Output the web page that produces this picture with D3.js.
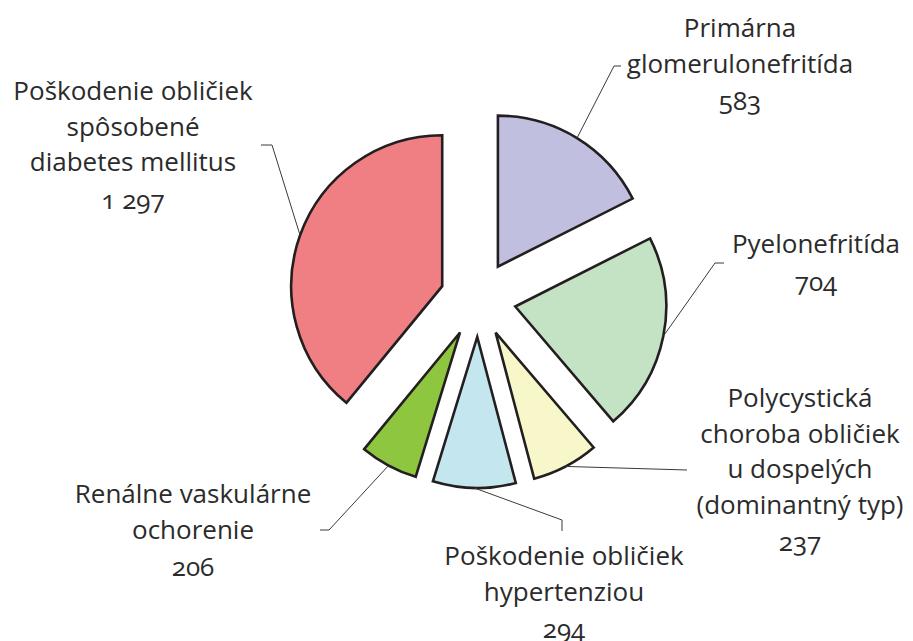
<!DOCTYPE html>
<html lang="sk">
  <head>
    <meta charset="utf-8">
    <title>D3: Exploded pie</title>
    <script type="text/javascript" src="https://cdn.jsdelivr.net/npm/d3@7"></script>
    <style type="text/css">
      body { margin: 0; background: #fff; }
      .label { font-family: "Open Sans", sans-serif; font-size: 26px; fill: #2b2b2b; font-variant-numeric: oldstyle-nums; }
      .leader { fill: none; stroke: #3a3a3a; stroke-width: 1; }
    </style>
  </head>
  <body>
    <script type="text/javascript">

      //Data
      var categories = [
        ["Primárna", "glomerulonefritída"],
        ["Pyelonefritída"],
        ["Polycystická", "choroba obličiek", "u dospelých", "(dominantný typ)"],
        ["Poškodenie obličiek", "hypertenziou"],
        ["Renálne vaskulárne", "ochorenie"],
        ["Poškodenie obličiek", "spôsobené", "diabetes mellitus"]
      ];
      var values = [583, 704, 237, 294, 206, 1297];
      var colors = ["#c1bfdf", "#c4e2c4", "#f8f7c9", "#c4e6ef", "#8fc640", "#f07f83"];

      //Label layout: text centre, first baseline, leader elbow and end
      var labelPos = [
        {x: 740, y: 37,  elbow: [614, 66],  end: [621, 66]},
        {x: 816, y: 253, elbow: [715, 263], end: [724, 263]},
        {x: 800, y: 407, elbow: [687, 470], end: [687, 470]},
        {x: 564, y: 565, elbow: [562, 520], end: [562, 531]},
        {x: 193, y: 503, elbow: [329, 530], end: [320, 530]},
        {x: 133, y: 100, elbow: [272, 145], end: [261, 145]}
      ];

      var w = 913, h = 641;
      var cx = 478, cy = 299;
      var radius = 151, explode = 38;
      var lineH = 35.5;

      var fmt = d3.formatLocale({decimal: ",", thousands: " ", grouping: [3], currency: ["", " €"]}).format(",d");

      var svg = d3.select("body")
        .append("svg")
        .attr("width", w)
        .attr("height", h);

      var pie = d3.pie().sort(null).startAngle(0).endAngle(2 * Math.PI);
      var arcs = pie(values);

      var arc = d3.arc().innerRadius(0).outerRadius(radius);

      function offset(d) {
        var a = (d.startAngle + d.endAngle) / 2;
        return [cx + Math.sin(a) * explode, cy - Math.cos(a) * explode];
      }

      //Slices
      svg.append("g")
        .selectAll("path")
        .data(arcs)
        .enter()
        .append("path")
        .attr("transform", function(d) { return "translate(" + offset(d) + ")"; })
        .attr("d", arc)
        .attr("fill", function(d, i) { return colors[i]; })
        .attr("stroke", "#231f20")
        .attr("stroke-width", 2.6)
        .attr("stroke-linejoin", "miter");

      //Leader lines start at the middle of each slice's arc
      svg.append("g")
        .selectAll("path")
        .data(arcs)
        .enter()
        .append("path")
        .attr("class", "leader")
        .attr("d", function(d, i) {
          var a = (d.startAngle + d.endAngle) / 2;
          var o = offset(d);
          var s = [o[0] + Math.sin(a) * radius, o[1] - Math.cos(a) * radius];
          return d3.line()([s, labelPos[i].elbow, labelPos[i].end]);
        });

      //Labels
      var labels = svg.append("g")
        .selectAll("text")
        .data(arcs)
        .enter()
        .append("text")
        .attr("class", "label")
        .attr("text-anchor", "middle")
        .attr("x", function(d, i) { return labelPos[i].x; })
        .attr("y", function(d, i) { return labelPos[i].y; });

      labels.each(function(d, i) {
        var t = d3.select(this);
        var lines = categories[i];
        lines.forEach(function(l, j) {
          t.append("tspan")
            .attr("x", labelPos[i].x)
            .attr("dy", j === 0 ? 0 : lineH)
            .text(l);
        });
        t.append("tspan")
          .attr("x", labelPos[i].x)
          .attr("dy", lineH + 2)
          .text(fmt(d.value));
      });

    </script>
  </body>
</html>
